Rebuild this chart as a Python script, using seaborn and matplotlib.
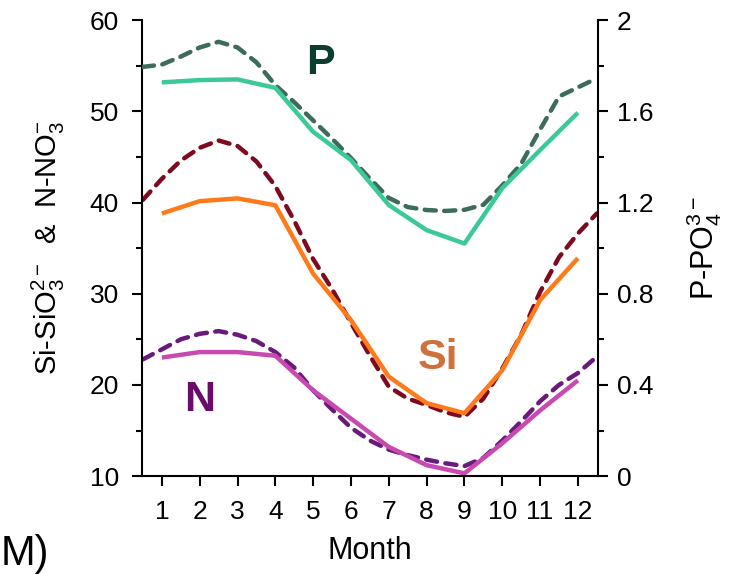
import numpy as np
import pandas as pd
import seaborn as sns
import matplotlib.pyplot as plt
from matplotlib.ticker import MultipleLocator, FuncFormatter

# monthly means (solid lines)
months = [1, 2, 3, 4, 5, 6, 7, 8, 9, 10, 11, 12]
p_obs = [1.727, 1.737, 1.74, 1.703, 1.51, 1.386, 1.189, 1.079, 1.02, 1.263, 1.43, 1.594]
si_obs = [38.8, 40.15, 40.45, 39.7, 32.2, 27.1, 20.9, 18.0, 16.9, 21.6, 29.3, 33.9]
n_obs = [23.0, 23.6, 23.6, 23.2, 19.4, 16.3, 13.2, 11.2, 10.3, 13.6, 17.2, 20.5]

# fitted curves (dashed lines), read at half-month steps
months_fit = [0.5, 1.0, 1.5, 2.0, 2.5, 3.0, 3.5, 4.0, 4.5, 5.0, 5.5, 6.0, 6.5,
              7.0, 7.5, 8.0, 8.5, 9.0, 9.5, 10.0, 10.5, 11.0, 11.5, 12.0, 12.5]
p_fit = [1.795, 1.805, 1.84, 1.88, 1.905, 1.88, 1.815, 1.715, 1.64, 1.56, 1.48, 1.395, 1.305,
         1.22, 1.18, 1.167, 1.163, 1.168, 1.19, 1.275, 1.37, 1.52, 1.665, 1.705, 1.745]
si_fit = [40.3, 42.6, 44.6, 46.0, 46.8, 46.2, 44.5, 41.8, 38.0, 33.8, 30.5, 26.8, 23.2,
          19.8, 18.5, 17.8, 17.0, 16.5, 18.5, 21.8, 25.5, 30.2, 34.0, 36.6, 38.8]
n_fit = [22.8, 23.9, 25.0, 25.6, 25.9, 25.5, 24.8, 23.6, 21.9, 19.4, 17.3, 15.3, 13.9,
         12.9, 12.3, 11.8, 11.4, 11.1, 12.0, 13.9, 16.0, 18.2, 20.0, 21.3, 23.1]

sns.set_style('ticks')
plt.rcParams['font.family'] = ['Liberation Sans', 'DejaVu Sans']
plt.rcParams['mathtext.fontset'] = 'custom'
plt.rcParams['mathtext.rm'] = 'Liberation Sans'
plt.rcParams['mathtext.it'] = 'Liberation Sans:italic'
plt.rcParams['text.color'] = 'black'
plt.rcParams['axes.labelcolor'] = 'black'

obs = pd.DataFrame({'month': months, 'P': p_obs, 'Si': si_obs, 'N': n_obs})
fit = pd.DataFrame({'month': months_fit, 'P': p_fit, 'Si': si_fit, 'N': n_fit})

fig = plt.figure(figsize=(7.31, 5.75), dpi=100)
ax = fig.add_axes([0.194, 0.172, 0.624, 0.793])
ax2 = ax.twinx()

lw = 3.2
dash = (2.5, 1.9)
# left axis: Si and N
sns.lineplot(data=fit, x='month', y='Si', ax=ax, color='#7d0a1e', lw=lw, dashes=dash)
sns.lineplot(data=obs, x='month', y='Si', ax=ax, color='#ff7a1a', lw=lw)
sns.lineplot(data=fit, x='month', y='N', ax=ax, color='#6a1a7a', lw=lw, dashes=dash)
sns.lineplot(data=obs, x='month', y='N', ax=ax, color='#c84ab0', lw=lw)
# right axis: P
sns.lineplot(data=fit, x='month', y='P', ax=ax2, color='#3d6b5e', lw=lw, dashes=dash)
sns.lineplot(data=obs, x='month', y='P', ax=ax2, color='#3cc99a', lw=lw)

for a in (ax, ax2):
    for l in a.get_lines():
        l.set_dash_capstyle('round')
        l.set_solid_capstyle('butt')

ax.set_xlim(0.47, 12.53)
ax.set_ylim(10, 60)
ax2.set_ylim(0, 2)
ax.set_xticks(months)
ax.yaxis.set_major_locator(MultipleLocator(10))
ax.yaxis.set_minor_locator(MultipleLocator(5))
ax2.yaxis.set_major_locator(MultipleLocator(0.4))
ax2.yaxis.set_minor_locator(MultipleLocator(0.2))
ax2.yaxis.set_major_formatter(FuncFormatter(lambda v, pos: '%g' % round(v, 1)))

for a in (ax, ax2):
    a.spines['top'].set_visible(False)
    for s in a.spines.values():
        s.set_linewidth(1.5)
        s.set_color('black')
    a.tick_params(which='major', direction='out', length=7.5, width=1.5,
                  labelsize=19, colors='black')
    a.tick_params(which='minor', direction='out', length=4, width=1.5, colors='black')
ax.tick_params(axis='y', which='major', pad=9)
ax.tick_params(axis='x', which='major', pad=10)
ax2.tick_params(axis='y', which='major', pad=6)
ax2.spines['left'].set_visible(False)
ax.spines['right'].set_visible(False)
ax2.spines['bottom'].set_visible(False)

ax.set_xlabel('Month', fontsize=22, labelpad=8)
ax.set_ylabel(r'Si-SiO$\mathregular{_3^{2-}}$  &  N-NO$\mathregular{_3^{-}}$', fontsize=21, labelpad=16)
ax2.set_ylabel(r'P-PO$\mathregular{_4^{3-}}$', fontsize=22, labelpad=22)

ax.text(5.18, 55.3, 'P', fontsize=31, fontweight='bold', color='#0b3d30', ha='center', va='center')
ax.text(8.3, 22.9, 'Si', fontsize=31, fontweight='bold', color='#d0703a', ha='center', va='center')
ax.text(2.0, 18.3, 'N', fontsize=31, fontweight='bold', color='#6a0a6a', ha='center', va='center')

fig.text(0.001, 0.036, 'M)', fontsize=30, ha='left', va='center')

fig.savefig('out.png', dpi=100)
